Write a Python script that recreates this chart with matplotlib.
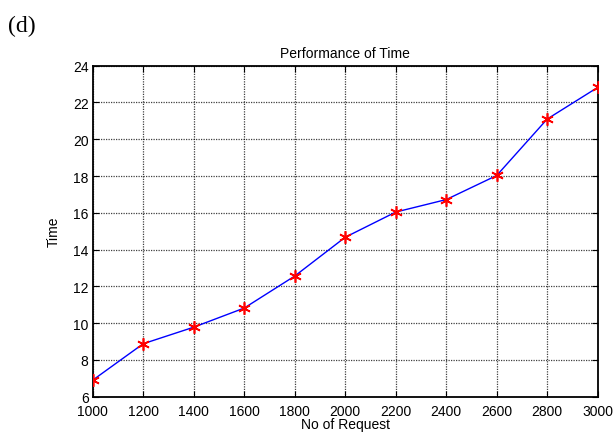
import matplotlib
matplotlib.use("Agg")
import matplotlib.pyplot as plt

requests = [1000, 1200, 1400, 1600, 1800, 2000, 2200, 2400, 2600, 2800, 3000]
time_vals = [6.9, 8.88, 9.78, 10.82, 12.56, 14.67, 16.04, 16.72, 18.03, 21.1, 22.82]
x_ticks = [1000, 1200, 1400, 1600, 1800, 2000, 2200, 2400, 2600, 2800, 3000]
y_ticks = [6, 8, 10, 12, 14, 16, 18, 20, 22, 24]

plt.rcParams['font.family'] = ['Liberation Sans', 'DejaVu Sans']

fig = plt.figure(figsize=(6.15, 4.35), dpi=100)
ax = fig.add_axes([92.7 / 615, 1 - 397.7 / 435, (597.7 - 92.7) / 615, (397.7 - 66.7) / 435])

ax.plot(requests, time_vals, color='blue', linewidth=1.0, zorder=3)
ax.plot(requests, time_vals, linestyle='none', marker=(6, 2, 0), markersize=9,
        markeredgecolor='red', markeredgewidth=1.2, color='red', zorder=4)

ax.set_xlim(1000, 3000)
ax.set_ylim(6, 24)
ax.set_xticks(x_ticks)
ax.set_yticks(y_ticks)
ax.tick_params(direction='in', length=4, labelsize=10, top=True, right=True,
               labeltop=False, labelright=False)
ax.tick_params(axis='x', pad=5.5)
ax.tick_params(axis='y', pad=3)
ax.grid(True, color='black', linestyle=(0, (1, 1)), linewidth=0.9, alpha=0.75)
for s in ax.spines.values():
    s.set_linewidth(1.3)

ax.set_title('Performance of Time', fontsize=10, pad=6)
ax.set_xlabel('No of Request', fontsize=10, labelpad=-1)
ax.set_ylabel('Time', fontsize=10, labelpad=9)

fig.text(8 / 615, 1 - 32 / 435, '(d)', family=['Liberation Serif'], fontsize=17)

fig.savefig('out.png', dpi=100)
